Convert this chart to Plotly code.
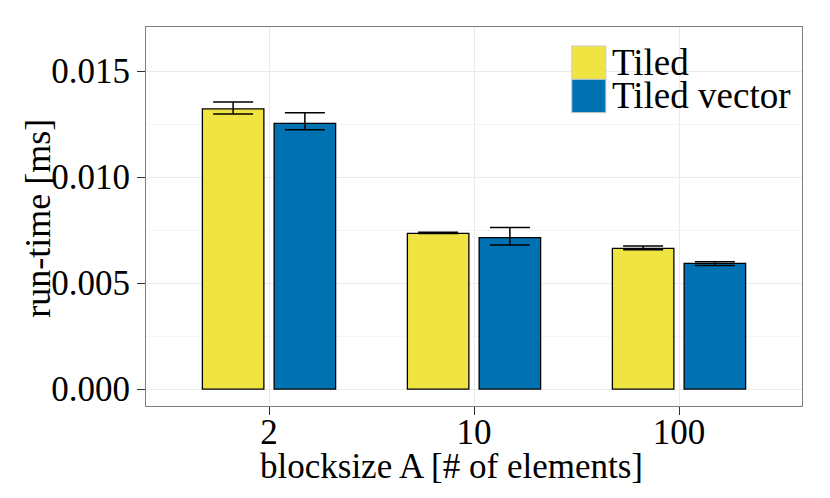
import plotly.graph_objects as go

# blocksize categories and measured run-times (ms)
blocksizes = ["2", "10", "100"]
tiled = [0.01321, 0.00734, 0.00663]
tiled_hi = [0.01354, 0.00740, 0.00675]
tiled_lo = [0.01297, 0.00733, 0.00657]
vector = [0.01253, 0.00714, 0.00593]
vector_hi = [0.01303, 0.00762, 0.00600]
vector_lo = [0.01223, 0.00679, 0.00583]

yellow = "#F0E442"
blue = "#0072B2"
font = "Liberation Serif"


def bar(name, vals, hi, lo, color):
    return go.Bar(
        name=name, x=blocksizes, y=vals,
        marker=dict(color=color, line=dict(color="black", width=1.3)),
        error_y=dict(type="data", symmetric=False,
                     array=[h - v for h, v in zip(hi, vals)],
                     arrayminus=[v - l for v, l in zip(vals, lo)],
                     color="black", thickness=1.5, width=20),
    )


fig = go.Figure([bar("Tiled", tiled, tiled_hi, tiled_lo, yellow),
                 bar("Tiled vector", vector, vector_hi, vector_lo, blue)])

fig.update_layout(
    width=830, height=498,
    margin=dict(l=146, r=28, t=27, b=92),
    barmode="group", bargap=0.3, bargroupgap=0.143,
    plot_bgcolor="white", paper_bgcolor="white",
    font=dict(family=font, size=35, color="black"),
    showlegend=False,
)

fig.update_xaxes(
    range=[-0.6, 2.6], showline=True, linecolor="#7f7f7f", mirror=True,
    showgrid=True, gridcolor="#ebebeb", ticks="outside", ticklen=8,
    tickcolor="#333333", tickwidth=1.2, ticklabelstandoff=-13,
)
fig.update_yaxes(
    range=[-0.0008, 0.017075], showline=True, linecolor="#7f7f7f", mirror=True,
    dtick=0.005, tickformat=".3f", showgrid=True, gridcolor="#ebebeb",
    zeroline=False, ticks="outside", ticklen=8, tickcolor="#333333", tickwidth=1.2,
    minor=dict(dtick=0.0025, showgrid=True, gridcolor="#f5f5f5"),
)

# axis titles placed as annotations
fig.add_annotation(text="blocksize A [# of elements]", xref="paper", yref="paper",
                   x=0.465, y=-0.16, xanchor="center", yanchor="middle",
                   showarrow=False, font=dict(size=35))
fig.add_annotation(text="run-time [ms]", xref="paper", yref="paper",
                   x=-0.165, y=0.496, xanchor="center", yanchor="middle",
                   textangle=-90, showarrow=False, font=dict(size=36))

# legend drawn by hand to get ggplot-sized keys
for i, (label, color) in enumerate([("Tiled", yellow), ("Tiled vector", blue)]):
    y1 = 0.95 - i * 0.088
    fig.add_shape(type="rect", xref="paper", yref="paper",
                  x0=0.649, x1=0.701, y0=y1 - 0.088, y1=y1,
                  fillcolor=color, line=dict(color="#cccccc", width=1))
    fig.add_annotation(text=label, xref="paper", yref="paper",
                       x=0.708, y=y1 - 0.044, xanchor="left", yanchor="middle",
                       showarrow=False, font=dict(size=37))

fig.write_html("out.html", config={"displayModeBar": False},
               post_script="document.body.style.margin='0px';")
